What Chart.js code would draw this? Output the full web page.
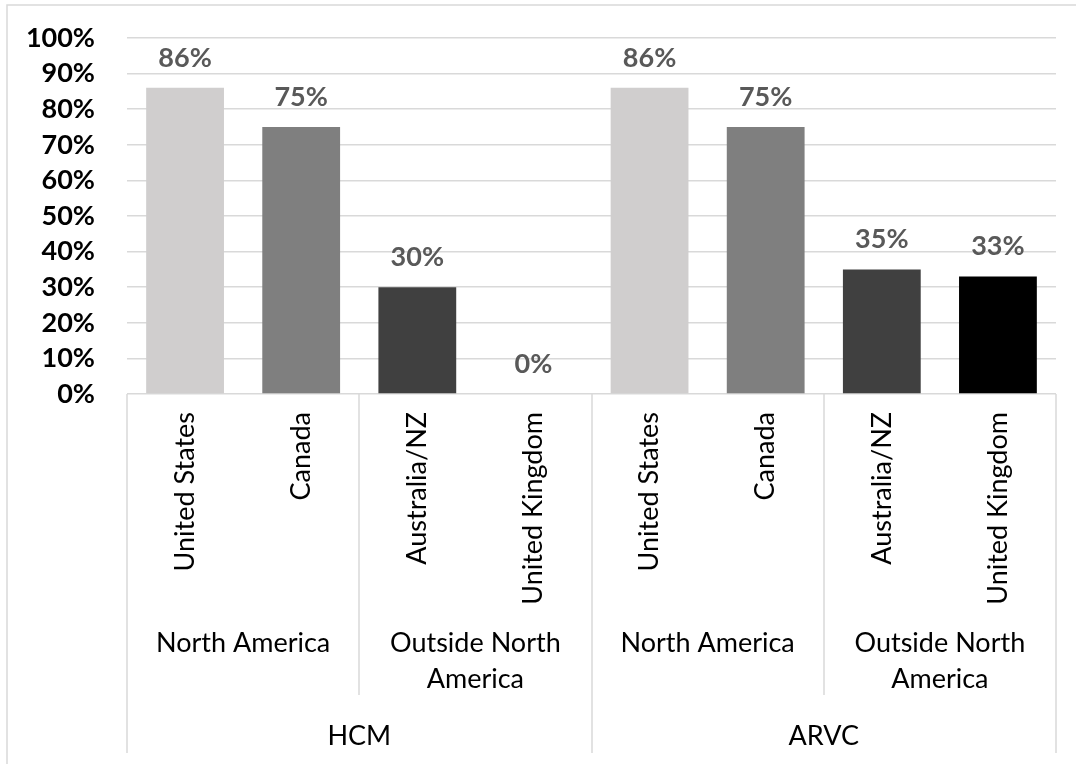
<!DOCTYPE html>
<html lang="en">
<head>
    <meta charset="UTF-8">
    <title>HCM / ARVC by country</title>
    <script src="https://cdn.jsdelivr.net/npm/chart.js"></script>
    <style>
        html, body { margin: 0; padding: 0; background: #ffffff; }
        canvas { display: block; }
    </style>
</head>
<body>
    <canvas id="grafico" width="1076" height="764"></canvas>

<script>
    // Categorias do eixo x (nível 1) e valores em %
    const paises = ["United States", "Canada", "Australia/NZ", "United Kingdom",
                    "United States", "Canada", "Australia/NZ", "United Kingdom"];
    const valores = [86, 75, 30, 0, 86, 75, 35, 33];
    const coresBarras = ["#d0cece", "#7f7f7f", "#404040", "#000000",
                         "#d0cece", "#7f7f7f", "#404040", "#000000"];

    // Nível 2: regiões (cada uma cobre 2 barras)
    const regioes = [["North America"], ["Outside North", "America"],
                     ["North America"], ["Outside North", "America"]];
    // Nível 3: doenças (cada uma cobre 4 barras)
    const doencas = ["HCM", "ARVC"];

    const fonte = "Lato, 'Noto Sans', sans-serif";
    const corLinha = "#d9d9d9";

    // Borda externa e fundo
    const fundo = {
        id: "fundo",
        beforeDraw(chart) {
            const c = chart.ctx;
            c.save();
            c.fillStyle = "#ffffff";
            c.fillRect(0, 0, chart.width, chart.height);
            c.strokeStyle = corLinha;
            c.lineWidth = 1.5;
            c.strokeRect(7, 5, chart.width + 20, chart.height + 20);
            c.restore();
        }
    };

    // Rótulos de dados acima das barras
    const rotulos = {
        id: "rotulos",
        afterDatasetsDraw(chart) {
            const c = chart.ctx;
            const meta = chart.getDatasetMeta(0);
            c.save();
            c.font = "bold 27px " + fonte;
            c.fillStyle = "#595959";
            c.textAlign = "center";
            c.textBaseline = "middle";
            meta.data.forEach((barra, i) => {
                c.fillText(valores[i] + "%", barra.x, barra.y - 30);
            });
            c.restore();
        }
    };

    // Eixo de categorias em vários níveis (regiões e doenças)
    const eixoNiveis = {
        id: "eixoNiveis",
        afterDraw(chart) {
            const c = chart.ctx;
            const x = chart.scales.x;
            const area = chart.chartArea;
            const passo = x.getPixelForValue(1) - x.getPixelForValue(0);
            const borda = i => x.getPixelForValue(i) - passo / 2;
            const yBase = area.bottom;
            const yRegiao = 695;
            const yFim = 753;

            c.save();
            c.strokeStyle = corLinha;
            c.lineWidth = 1.5;

            // separadores entre regiões
            for (let i = 0; i <= paises.length; i += 2) {
                const px = Math.round(borda(i));
                const fim = (i % 4 === 0) ? yFim : yRegiao;
                c.beginPath();
                c.moveTo(px, yBase);
                c.lineTo(px, fim);
                c.stroke();
            }

            c.fillStyle = "#000000";
            c.font = "27px " + fonte;
            c.textAlign = "center";
            c.textBaseline = "middle";

            regioes.forEach((linhas, r) => {
                const cx = (borda(r * 2) + borda(r * 2 + 2)) / 2;
                linhas.forEach((txt, k) => c.fillText(txt, cx, 643 + k * 36));
            });

            doencas.forEach((txt, d) => {
                const cx = (borda(d * 4) + borda(d * 4 + 4)) / 2;
                c.fillText(txt, cx, 736);
            });
            c.restore();
        }
    };

    const ctx = document.getElementById("grafico").getContext("2d");

    new Chart(ctx, {
        type: "bar",
        data: {
            labels: paises,
            datasets: [{
                data: valores,
                backgroundColor: coresBarras,
                borderWidth: 0,
                categoryPercentage: 1,
                barPercentage: 0.67
            }]
        },
        options: {
            responsive: false,
            animation: false,
            devicePixelRatio: 1,
            layout: { padding: { top: 38, right: 20, left: 0, bottom: 0 } },
            plugins: {
                legend: { display: false },
                tooltip: { enabled: false }
            },
            scales: {
                y: {
                    min: 0,
                    max: 100,
                    ticks: {
                        stepSize: 10,
                        autoSkip: false,
                        padding: 32,
                        color: "#000000",
                        font: { family: fonte, size: 27, weight: "bold" },
                        callback: v => v + "%"
                    },
                    grid: { color: corLinha, lineWidth: 1.5, drawTicks: false },
                    border: { display: false },
                    afterFit: s => {
                        s.width = 127;
                        s.paddingTop = 0;
                        s.paddingBottom = 0;
                    }
                },
                x: {
                    ticks: {
                        autoSkip: false,
                        minRotation: 90,
                        maxRotation: 90,
                        padding: 18,
                        color: "#000000",
                        font: { family: fonte, size: 27 }
                    },
                    grid: { display: false, drawTicks: false },
                    border: { display: false },
                    afterFit: s => { s.height = 764 - 394; }
                }
            }
        },
        plugins: [fundo, rotulos, eixoNiveis]
    });
</script>
</body>
</html>
